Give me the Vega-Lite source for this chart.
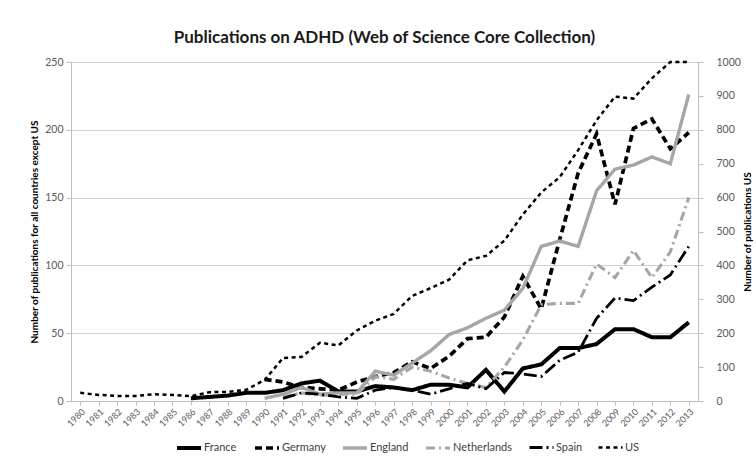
{
  "$schema": "https://vega.github.io/schema/vega-lite/v6.json",
  "width": 627,
  "height": 339,
  "autosize": "none",
  "padding": {"left": 71, "top": 62, "right": 58, "bottom": 74},
  "background": "white",
  "title": {"text": "Publications on ADHD (Web of Science Core Collection)", "font": "Lato", "fontSize": 17, "fontWeight": "bold", "color": "#1a1a1a", "anchor": "middle", "offset": 10},
  "config": {
    "view": {"stroke": null},
    "axis": {"labelFont": "Lato", "titleFont": "Lato", "labelColor": "#595959", "domainColor": "#bfbfbf", "tickColor": "#bfbfbf", "titleColor": "#000000"},
    "legend": {"labelFont": "Lato", "labelFontSize": 11, "labelColor": "#404040", "symbolType": "stroke", "symbolSize": 576, "columnPadding": 10, "labelOffset": 1, "padding": 0, "gridAlign": "none"}
  },
  "datasets": {
    "pubs": [
      {"year": 1980, "country": "US", "value": 24}, {"year": 1981, "country": "US", "value": 18}, {"year": 1982, "country": "US", "value": 15}, {"year": 1983, "country": "US", "value": 15}, {"year": 1984, "country": "US", "value": 20}, {"year": 1985, "country": "US", "value": 18}, {"year": 1986, "country": "US", "value": 14}, {"year": 1987, "country": "US", "value": 26}, {"year": 1988, "country": "US", "value": 27}, {"year": 1989, "country": "US", "value": 33}, {"year": 1990, "country": "US", "value": 62}, {"year": 1991, "country": "US", "value": 127}, {"year": 1992, "country": "US", "value": 130}, {"year": 1993, "country": "US", "value": 172}, {"year": 1994, "country": "US", "value": 164}, {"year": 1995, "country": "US", "value": 208}, {"year": 1996, "country": "US", "value": 237}, {"year": 1997, "country": "US", "value": 257}, {"year": 1998, "country": "US", "value": 310}, {"year": 1999, "country": "US", "value": 333}, {"year": 2000, "country": "US", "value": 358}, {"year": 2001, "country": "US", "value": 415}, {"year": 2002, "country": "US", "value": 428}, {"year": 2003, "country": "US", "value": 473}, {"year": 2004, "country": "US", "value": 550}, {"year": 2005, "country": "US", "value": 615}, {"year": 2006, "country": "US", "value": 660}, {"year": 2007, "country": "US", "value": 740}, {"year": 2008, "country": "US", "value": 828}, {"year": 2009, "country": "US", "value": 898}, {"year": 2010, "country": "US", "value": 892}, {"year": 2011, "country": "US", "value": 952}, {"year": 2012, "country": "US", "value": 1000}, {"year": 2013, "country": "US", "value": 1000},
      {"year": 1986, "country": "France", "value": 2}, {"year": 1987, "country": "France", "value": 3}, {"year": 1988, "country": "France", "value": 4}, {"year": 1989, "country": "France", "value": 6}, {"year": 1990, "country": "France", "value": 6}, {"year": 1991, "country": "France", "value": 8}, {"year": 1992, "country": "France", "value": 13}, {"year": 1993, "country": "France", "value": 15}, {"year": 1994, "country": "France", "value": 7}, {"year": 1995, "country": "France", "value": 7}, {"year": 1996, "country": "France", "value": 11}, {"year": 1997, "country": "France", "value": 10}, {"year": 1998, "country": "France", "value": 8}, {"year": 1999, "country": "France", "value": 12}, {"year": 2000, "country": "France", "value": 12}, {"year": 2001, "country": "France", "value": 10}, {"year": 2002, "country": "France", "value": 23}, {"year": 2003, "country": "France", "value": 7}, {"year": 2004, "country": "France", "value": 24}, {"year": 2005, "country": "France", "value": 27}, {"year": 2006, "country": "France", "value": 39}, {"year": 2007, "country": "France", "value": 39}, {"year": 2008, "country": "France", "value": 42}, {"year": 2009, "country": "France", "value": 53}, {"year": 2010, "country": "France", "value": 53}, {"year": 2011, "country": "France", "value": 47}, {"year": 2012, "country": "France", "value": 47}, {"year": 2013, "country": "France", "value": 58},
      {"year": 1990, "country": "Germany", "value": 16}, {"year": 1991, "country": "Germany", "value": 14}, {"year": 1992, "country": "Germany", "value": 10}, {"year": 1993, "country": "Germany", "value": 9}, {"year": 1994, "country": "Germany", "value": 8}, {"year": 1995, "country": "Germany", "value": 14}, {"year": 1996, "country": "Germany", "value": 18}, {"year": 1997, "country": "Germany", "value": 21}, {"year": 1998, "country": "Germany", "value": 29}, {"year": 1999, "country": "Germany", "value": 24}, {"year": 2000, "country": "Germany", "value": 33}, {"year": 2001, "country": "Germany", "value": 46}, {"year": 2002, "country": "Germany", "value": 47}, {"year": 2003, "country": "Germany", "value": 62}, {"year": 2004, "country": "Germany", "value": 92}, {"year": 2005, "country": "Germany", "value": 68}, {"year": 2006, "country": "Germany", "value": 119}, {"year": 2007, "country": "Germany", "value": 168}, {"year": 2008, "country": "Germany", "value": 197}, {"year": 2009, "country": "Germany", "value": 145}, {"year": 2010, "country": "Germany", "value": 201}, {"year": 2011, "country": "Germany", "value": 208}, {"year": 2012, "country": "Germany", "value": 186}, {"year": 2013, "country": "Germany", "value": 198},
      {"year": 1990, "country": "England", "value": 2}, {"year": 1991, "country": "England", "value": 5}, {"year": 1992, "country": "England", "value": 10}, {"year": 1993, "country": "England", "value": 5}, {"year": 1994, "country": "England", "value": 6}, {"year": 1995, "country": "England", "value": 6}, {"year": 1996, "country": "England", "value": 22}, {"year": 1997, "country": "England", "value": 19}, {"year": 1998, "country": "England", "value": 28}, {"year": 1999, "country": "England", "value": 37}, {"year": 2000, "country": "England", "value": 49}, {"year": 2001, "country": "England", "value": 54}, {"year": 2002, "country": "England", "value": 61}, {"year": 2003, "country": "England", "value": 67}, {"year": 2004, "country": "England", "value": 83}, {"year": 2005, "country": "England", "value": 114}, {"year": 2006, "country": "England", "value": 118}, {"year": 2007, "country": "England", "value": 114}, {"year": 2008, "country": "England", "value": 155}, {"year": 2009, "country": "England", "value": 171}, {"year": 2010, "country": "England", "value": 174}, {"year": 2011, "country": "England", "value": 180}, {"year": 2012, "country": "England", "value": 175}, {"year": 2013, "country": "England", "value": 226},
      {"year": 1991, "country": "Netherlands", "value": 3}, {"year": 1992, "country": "Netherlands", "value": 6}, {"year": 1993, "country": "Netherlands", "value": 4}, {"year": 1994, "country": "Netherlands", "value": 5}, {"year": 1995, "country": "Netherlands", "value": 5}, {"year": 1996, "country": "Netherlands", "value": 18}, {"year": 1997, "country": "Netherlands", "value": 16}, {"year": 1998, "country": "Netherlands", "value": 25}, {"year": 1999, "country": "Netherlands", "value": 22}, {"year": 2000, "country": "Netherlands", "value": 17}, {"year": 2001, "country": "Netherlands", "value": 13}, {"year": 2002, "country": "Netherlands", "value": 10}, {"year": 2003, "country": "Netherlands", "value": 25}, {"year": 2004, "country": "Netherlands", "value": 45}, {"year": 2005, "country": "Netherlands", "value": 71}, {"year": 2006, "country": "Netherlands", "value": 72}, {"year": 2007, "country": "Netherlands", "value": 72}, {"year": 2008, "country": "Netherlands", "value": 101}, {"year": 2009, "country": "Netherlands", "value": 91}, {"year": 2010, "country": "Netherlands", "value": 111}, {"year": 2011, "country": "Netherlands", "value": 91}, {"year": 2012, "country": "Netherlands", "value": 110}, {"year": 2013, "country": "Netherlands", "value": 150},
      {"year": 1991, "country": "Spain", "value": 2}, {"year": 1992, "country": "Spain", "value": 6}, {"year": 1993, "country": "Spain", "value": 5}, {"year": 1994, "country": "Spain", "value": 3}, {"year": 1995, "country": "Spain", "value": 2}, {"year": 1996, "country": "Spain", "value": 8}, {"year": 1997, "country": "Spain", "value": 10}, {"year": 1998, "country": "Spain", "value": 8}, {"year": 1999, "country": "Spain", "value": 5}, {"year": 2000, "country": "Spain", "value": 9}, {"year": 2001, "country": "Spain", "value": 13}, {"year": 2002, "country": "Spain", "value": 9}, {"year": 2003, "country": "Spain", "value": 21}, {"year": 2004, "country": "Spain", "value": 20}, {"year": 2005, "country": "Spain", "value": 18}, {"year": 2006, "country": "Spain", "value": 30}, {"year": 2007, "country": "Spain", "value": 36}, {"year": 2008, "country": "Spain", "value": 61}, {"year": 2009, "country": "Spain", "value": 76}, {"year": 2010, "country": "Spain", "value": 74}, {"year": 2011, "country": "Spain", "value": 84}, {"year": 2012, "country": "Spain", "value": 93}, {"year": 2013, "country": "Spain", "value": 114}
    ]
  },
  "data": {"name": "pubs"},
  "encoding": {
    "x": {"field": "year", "type": "ordinal", "scale": {"type": "point", "padding": 0.5},
      "axis": {"title": null, "labelAngle": -45, "labelFontSize": 9, "tickSize": 4, "labelPadding": 2, "grid": false}}
  },
  "layer": [
    {
      "transform": [{"filter": "datum.country !== 'US'"}],
      "mark": {"type": "line", "strokeJoin": "miter"},
      "encoding": {
        "y": {"field": "value", "type": "quantitative", "scale": {"domain": [0, 250], "nice": false},
          "axis": {"title": "Number of publications for all countries except US", "titleFontSize": 10, "titleFontWeight": "bold", "values": [0, 50, 100, 150, 200, 250], "labelFontSize": 10.5, "grid": true, "gridColor": "#d0d0d0", "tickSize": 5, "labelPadding": 3, "titlePadding": 5}},
        "color": {"field": "country", "type": "nominal", "scale": {"domain": ["France", "Germany", "England", "Netherlands", "Spain", "US"], "range": ["#000000", "#000000", "#a6a6a6", "#a6a6a6", "#000000", "#000000"]},
          "legend": {"title": null, "orient": "none", "direction": "horizontal", "legendX": 104, "legendY": 372}},
        "strokeDash": {"field": "country", "type": "nominal", "scale": {"domain": ["France", "Germany", "England", "Netherlands", "Spain", "US"], "range": [[1, 0], [7, 4], [1, 0], [9, 4, 2, 4], [13, 4, 2, 4], [4, 3.5]]},
          "legend": {"title": null, "orient": "none", "direction": "horizontal", "legendX": 104, "legendY": 372}},
        "strokeWidth": {"field": "country", "type": "ordinal", "scale": {"domain": ["France", "Germany", "England", "Netherlands", "Spain", "US"], "range": [4, 2.5, 2, 1.5, 2, 4.5]},
          "legend": {"title": null, "orient": "none", "direction": "horizontal", "legendX": 104, "legendY": 372}}
      }
    },
    {
      "transform": [{"filter": "datum.country === 'US'"}],
      "mark": {"type": "line"},
      "encoding": {
        "y": {"field": "value", "type": "quantitative", "scale": {"domain": [0, 1000], "nice": false},
          "axis": {"orient": "right", "title": "Number of publications US", "titleFontSize": 10, "titleFontWeight": "bold", "titleAngle": -90, "titleBaseline": "bottom", "format": "d", "values": [0, 100, 200, 300, 400, 500, 600, 700, 800, 900, 1000], "labelFontSize": 10.5, "grid": false, "tickSize": 5, "labelPadding": 13, "titlePadding": 12}},
        "color": {"field": "country", "type": "nominal", "scale": {"domain": ["France", "Germany", "England", "Netherlands", "Spain", "US"], "range": ["#000000", "#000000", "#a6a6a6", "#a6a6a6", "#000000", "#000000"]},
          "legend": {"title": null, "orient": "none", "direction": "horizontal", "legendX": 104, "legendY": 372}},
        "strokeDash": {"field": "country", "type": "nominal", "scale": {"domain": ["France", "Germany", "England", "Netherlands", "Spain", "US"], "range": [[1, 0], [7, 4], [1, 0], [9, 4, 2, 4], [13, 4, 2, 4], [4, 3.5]]},
          "legend": {"title": null, "orient": "none", "direction": "horizontal", "legendX": 104, "legendY": 372}},
        "strokeWidth": {"field": "country", "type": "ordinal", "scale": {"domain": ["France", "Germany", "England", "Netherlands", "Spain", "US"], "range": [4, 2.5, 2, 1.5, 2, 4.5]},
          "legend": {"title": null, "orient": "none", "direction": "horizontal", "legendX": 104, "legendY": 372}}
      }
    }
  ],
  "resolve": {"scale": {"y": "independent"}}
}
